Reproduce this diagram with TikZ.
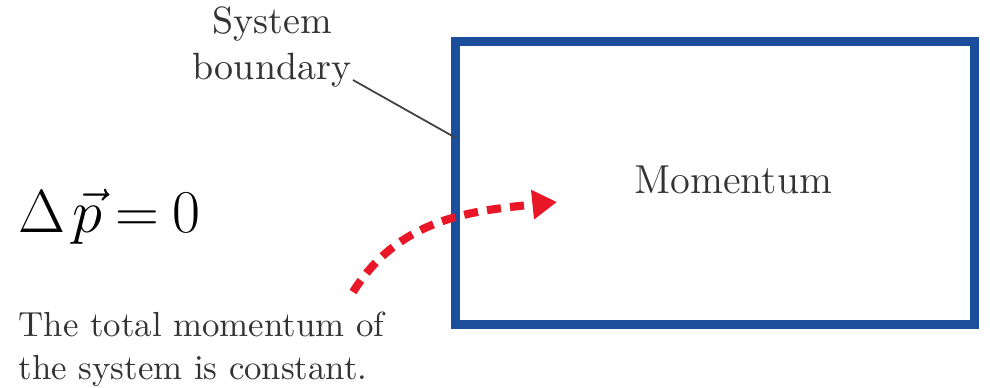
\documentclass[tikz,border=0pt]{standalone}
\usepackage{amsmath}
\usetikzlibrary{arrows.meta,positioning,calc}

\definecolor{boxblue}{RGB}{28,78,158}
\definecolor{flowred}{RGB}{232,22,38}

\begin{document}
\begin{tikzpicture}[x=0.01cm, y=-0.01cm,
    sysframe/.style={draw=boxblue, line width=0.09cm, minimum width=5.18cm, minimum height=2.82cm, inner sep=0pt},
    caption/.style={align=center, font=\fontsize{10.8}{12.8}\selectfont, text=black!80},
    note/.style={align=left, font=\fontsize{9.9}{12.4}\selectfont, text=black!80, inner sep=0pt},
    leader/.style={draw=black!75, line width=0.5pt},
    flow/.style={draw=flowred, line width=2.3pt, dash pattern=on 4pt off 2.6pt, -{Triangle[length=7pt, width=8pt]}}
]
\useasboundingbox (0,0) rectangle (990,387);

\node[sysframe] (sys) at (715,183) {};
\node[font=\fontsize{11.5}{14}\selectfont, text=black!80] (mom) at (733,180) {Momentum};

\node[caption] (bnd) at (272,47) {System\\boundary};
\coordinate (tip) at (353,80);
\coordinate (hit) at (456,138);
\draw[leader] (tip) -- (hit);

\node[font=\fontsize{17.5}{21}\selectfont, anchor=base west, inner sep=0pt] (law) at (18,232)
  {$\Delta\mkern2mu\vec{p}\mskip-1mu=\mskip-1mu0$};

\node[note, anchor=north west] (txt) at (18,311) {The total momentum of\\the system is constant.};

% momentum flow
\coordinate (src) at (353,292);
\coordinate (dst) at (557,202);
\draw[flow] (src) to[out=58, in=186] (dst);
\end{tikzpicture}
\end{document}
